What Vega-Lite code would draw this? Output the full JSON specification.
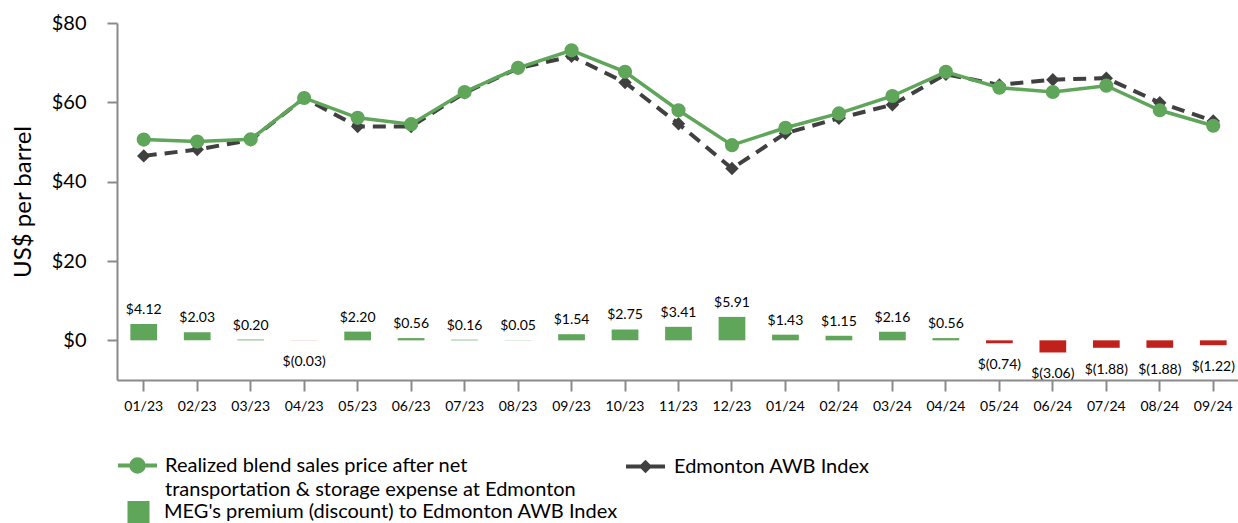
{
  "$schema": "https://vega.github.io/schema/vega-lite/v6.json",
  "width": 1123,
  "height": 357,
  "autosize": {"type": "none"},
  "padding": {"left": 117, "top": 23, "right": 0, "bottom": 143},
  "background": "white",
  "config": {
    "view": {"stroke": null},
    "font": "Lato",
    "style": {"guide-label": {"lineHeight": 24.5}},
    "axis": {"grid": false, "domainColor": "#8a8a8a", "domainWidth": 2, "tickColor": "#8a8a8a", "tickWidth": 2, "labelColor": "#000000", "titleColor": "#000000", "labelFont": "Lato", "titleFont": "Lato"},
    "legend": {"labelFont": "Lato", "labelFontSize": 20, "labelColor": "#000000", "labelLimit": 700, "padding": 0, "orient": "none", "title": null}
  },
  "data": {
    "values": [
      {"month": "01/23", "realized": 50.6, "awb": 46.5, "premium": 4.12, "label": "$4.12"},
      {"month": "02/23", "realized": 50.1, "awb": 48.1, "premium": 2.03, "label": "$2.03"},
      {"month": "03/23", "realized": 50.7, "awb": 50.5, "premium": 0.20, "label": "$0.20"},
      {"month": "04/23", "realized": 61.1, "awb": 61.1, "premium": -0.03, "label": "$(0.03)"},
      {"month": "05/23", "realized": 56.1, "awb": 53.9, "premium": 2.20, "label": "$2.20"},
      {"month": "06/23", "realized": 54.5, "awb": 53.9, "premium": 0.56, "label": "$0.56"},
      {"month": "07/23", "realized": 62.6, "awb": 62.4, "premium": 0.16, "label": "$0.16"},
      {"month": "08/23", "realized": 68.7, "awb": 68.6, "premium": 0.05, "label": "$0.05"},
      {"month": "09/23", "realized": 73.1, "awb": 71.6, "premium": 1.54, "label": "$1.54"},
      {"month": "10/23", "realized": 67.7, "awb": 65.0, "premium": 2.75, "label": "$2.75"},
      {"month": "11/23", "realized": 58.0, "awb": 54.6, "premium": 3.41, "label": "$3.41"},
      {"month": "12/23", "realized": 49.2, "awb": 43.3, "premium": 5.91, "label": "$5.91"},
      {"month": "01/24", "realized": 53.6, "awb": 52.2, "premium": 1.43, "label": "$1.43"},
      {"month": "02/24", "realized": 57.2, "awb": 56.0, "premium": 1.15, "label": "$1.15"},
      {"month": "03/24", "realized": 61.6, "awb": 59.4, "premium": 2.16, "label": "$2.16"},
      {"month": "04/24", "realized": 67.7, "awb": 67.1, "premium": 0.56, "label": "$0.56"},
      {"month": "05/24", "realized": 63.7, "awb": 64.4, "premium": -0.74, "label": "$(0.74)"},
      {"month": "06/24", "realized": 62.6, "awb": 65.7, "premium": -3.06, "label": "$(3.06)"},
      {"month": "07/24", "realized": 64.2, "awb": 66.1, "premium": -1.88, "label": "$(1.88)"},
      {"month": "08/24", "realized": 58.0, "awb": 59.9, "premium": -1.88, "label": "$(1.88)"},
      {"month": "09/24", "realized": 54.1, "awb": 55.3, "premium": -1.22, "label": "$(1.22)"}
    ]
  },
  "encoding": {
    "x": {
      "field": "month", "type": "ordinal", "sort": null,
      "scale": {"paddingInner": 0.5, "paddingOuter": 0.25},
      "axis": {"title": null, "labelAngle": 0, "labelFontSize": 14, "tickSize": 11, "labelPadding": 8}
    }
  },
  "layer": [
    {
      "mark": {"type": "bar"},
      "encoding": {
        "y": {
          "field": "premium", "type": "quantitative",
          "scale": {"domain": [-10, 80], "nice": false},
          "axis": {"title": "US$ per barrel", "titleFontSize": 24, "titleFontWeight": "normal", "titlePadding": 16, "values": [0, 20, 40, 60, 80], "labelExpr": "'$' + datum.value", "labelFontSize": 20, "tickSize": 10, "labelPadding": 21}
        },
        "fill": {
          "datum": "MEG's premium (discount) to Edmonton AWB Index",
          "scale": {"range": ["#5fa55a"]},
          "condition": {"test": "datum.premium < 0", "value": "#c0221b"},
          "legend": {"legendX": 10.5, "legendY": 478, "symbolType": "square", "symbolSize": 484, "symbolStrokeWidth": 0, "labelOffset": 14.5}
        }
      }
    },
    {
      "transform": [{"filter": "datum.premium >= 0"}],
      "mark": {"type": "text", "baseline": "alphabetic", "dy": -10, "fontSize": 14, "color": "#000000", "font": "Lato"},
      "encoding": {"y": {"field": "premium", "type": "quantitative"}, "text": {"field": "label"}}
    },
    {
      "transform": [{"filter": "datum.premium < 0"}],
      "mark": {"type": "text", "baseline": "alphabetic", "dy": 26, "fontSize": 14, "color": "#000000", "font": "Lato"},
      "encoding": {"y": {"field": "premium", "type": "quantitative"}, "text": {"field": "label"}}
    },
    {
      "mark": {"type": "line", "color": "#404040", "strokeWidth": 4, "strokeDash": [13, 8]},
      "encoding": {"y": {"field": "awb", "type": "quantitative"}}
    },
    {
      "mark": {"type": "point", "filled": true, "opacity": 1, "fill": "#404040", "shape": "diamond", "size": 180, "strokeWidth": 0},
      "encoding": {
        "y": {"field": "awb", "type": "quantitative"},
        "stroke": {
          "datum": "Edmonton AWB Index",
          "scale": {"range": ["#404040"]},
          "legend": {
            "legendX": 507, "legendY": 422, "symbolSize": 1521, "labelOffset": 7,
            "symbolType": "M-1,0H1M0,-0.2L0.2,0L0,0.2L-0.2,0Z",
            "symbolFillColor": "#404040", "symbolStrokeWidth": 4, "symbolOpacity": 1
          }
        }
      }
    },
    {
      "mark": {"type": "line", "color": "#5fa55a", "strokeWidth": 3.5},
      "encoding": {"y": {"field": "realized", "type": "quantitative"}}
    },
    {
      "mark": {"type": "circle", "opacity": 1, "size": 200},
      "encoding": {
        "y": {"field": "realized", "type": "quantitative"},
        "color": {
          "datum": "Realized blend sales price after net transportation & storage expense at Edmonton",
          "scale": {"range": ["#5fa55a"]},
          "legend": {
            "legendX": -1, "legendY": 421, "symbolSize": 1521, "labelOffset": 6,
            "symbolType": "M-1,0H1M0.32,0A0.32,0.32,0,1,1,-0.32,0A0.32,0.32,0,1,1,0.32,0Z",
            "symbolStrokeColor": "#5fa55a", "symbolStrokeWidth": 4, "symbolOpacity": 1,
            "labelExpr": "['Realized blend sales price after net', 'transportation & storage expense at Edmonton']",
            "encode": {"labels": {"dy": {"value": 11.25}}}
          }
        }
      }
    }
  ]
}
